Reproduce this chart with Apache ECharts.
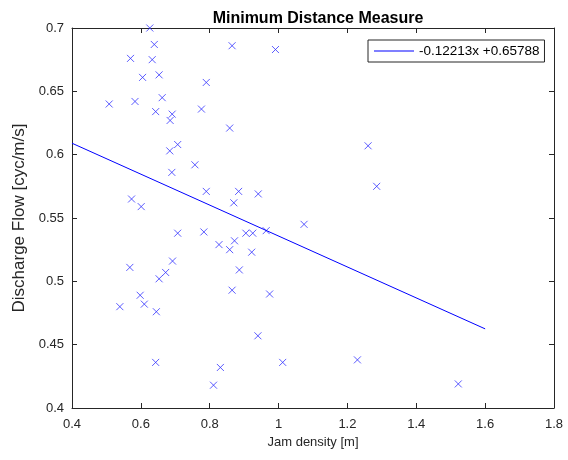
<!DOCTYPE html>
<html>
<head>
<meta charset="utf-8">
<script src="https://cdn.jsdelivr.net/npm/echarts@6/dist/echarts.min.js"></script>
<style>html,body{margin:0;padding:0;background:#fff}#c{width:568px;height:460px}</style>
</head>
<body>
<div id="c"></div>
<script>
var jamDensity = [0.626,0.639,0.570,0.633,0.653,0.605,0.508,0.583,0.662,0.643,0.691,0.685,0.790,0.776,0.858,0.684,0.707,0.865,0.991,1.260,0.757,0.690,0.790,0.573,0.601,0.707,0.783,0.827,0.858,0.568,0.692,0.672,0.653,1.285,0.884,0.941,0.870,1.074,0.964,0.905,0.925,0.872,0.922,0.886,0.865,0.974,0.940,1.012,1.229,0.831,0.598,0.539,0.610,0.645,0.643,0.811,1.522];
var dischargeFlow = [0.700,0.687,0.676,0.675,0.663,0.661,0.640,0.642,0.645,0.634,0.632,0.627,0.657,0.636,0.621,0.603,0.608,0.686,0.683,0.607,0.592,0.586,0.571,0.565,0.559,0.538,0.539,0.529,0.525,0.511,0.516,0.507,0.502,0.575,0.571,0.569,0.562,0.545,0.540,0.538,0.538,0.532,0.523,0.509,0.493,0.490,0.457,0.436,0.438,0.432,0.489,0.480,0.482,0.476,0.436,0.418,0.419];
var fitX = [0.4, 1.6];
var fitY = [0.60903, 0.46247];
var fitLabel = '-0.12213x +0.65788';
var xTicks = [0.4,0.6,0.8,1,1.2,1.4,1.6,1.8];
var yTicks = [0.4,0.45,0.5,0.55,0.6,0.65,0.7];

var font = 'Liberation Sans, Arial, Helvetica, sans-serif';
var axisCol = '#262626';
var chart = echarts.init(document.getElementById('c'), null, {renderer:'canvas'});
function ax(extra){
  return Object.assign({
    type:'value',
    axisLine:{show:true, onZero:false, lineStyle:{color:axisCol, width:1}},
    axisTick:{show:true, inside:true, length:5, lineStyle:{color:axisCol}},
    splitLine:{show:false},
    axisLabel:{color:axisCol, fontFamily:font, fontSize:13}
  }, extra);
}
chart.setOption({
  animation:false,
  backgroundColor:'#fff',
  title:{text:'Minimum Distance Measure', left:313, top:6, textAlign:'center',
    textStyle:{fontFamily:font, fontSize:16, fontWeight:'bold', color:'#000'}},
  grid:{left:72, right:14, top:28, bottom:52, show:false},
  legend:{left:368, top:40, data:[{name:fitLabel, icon:'rect'}], itemWidth:40, itemHeight:1,
    borderColor:axisCol, borderWidth:1, padding:[4,5,4,6], itemGap:4,
    textStyle:{fontFamily:font, fontSize:13.5, color:'#000'}, backgroundColor:'#fff'},
  xAxis:[
    ax({min:0.4, max:1.8, interval:0.2, name:'Jam density [m]', nameLocation:'middle', nameGap:24,
      nameTextStyle:{fontFamily:font, fontSize:13, color:axisCol},
      axisLabel:{color:axisCol, fontFamily:font, fontSize:13, margin:10}}),
    ax({min:0.4, max:1.8, interval:0.2, position:'top', axisLabel:{show:false}})
  ],
  yAxis:[
    ax({min:0.4, max:0.7, interval:0.05, name:'Discharge Flow [cyc/m/s]', nameLocation:'middle', nameGap:41,
      nameTextStyle:{fontFamily:font, fontSize:17, color:axisCol},
      axisLabel:{color:axisCol, fontFamily:font, fontSize:13, margin:8,
        formatter:function(v){return String(parseFloat(v.toFixed(2)));}}}),
    ax({min:0.4, max:0.7, interval:0.05, position:'right', axisLabel:{show:false}})
  ],
  series:[
    {type:'scatter', name:'data', data:jamDensity.map(function(x,i){return [x, dischargeFlow[i]];}),
      symbol:'path://M0,0L10,10M10,0L0,10', symbolSize:7,
      itemStyle:{color:'rgba(0,0,0,0)', borderColor:'#3333ff', borderWidth:1}},
    {type:'line', name:fitLabel, data:fitX.map(function(x,i){return [x, fitY[i]];}),
      symbol:'none', lineStyle:{color:'#0000ff', width:1}, itemStyle:{color:'#0000ff'}}
  ]
});
</script>
</body>
</html>
